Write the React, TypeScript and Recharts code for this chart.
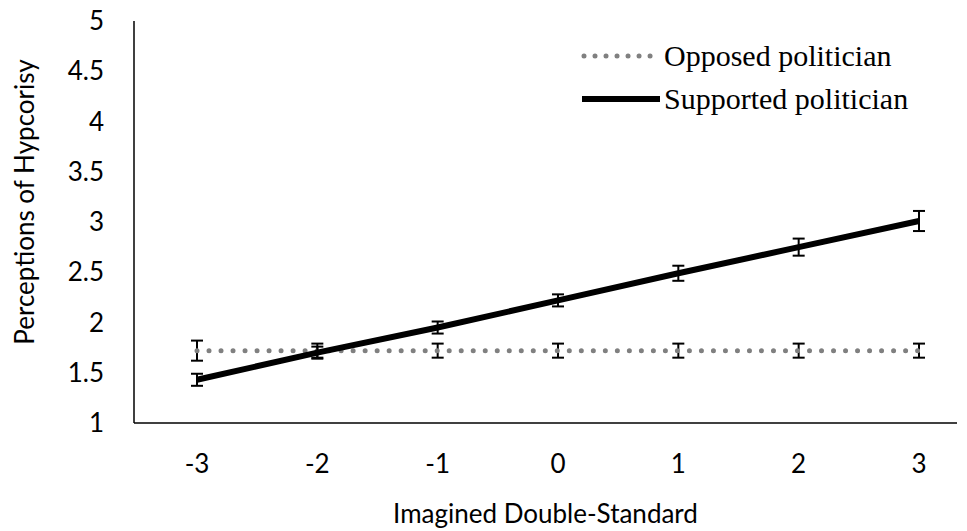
import React from "react";
import { LineChart, Line, XAxis, YAxis, ErrorBar } from "recharts";

const categories = ["-3", "-2", "-1", "0", "1", "2", "3"];
const opposed = [1.72, 1.72, 1.72, 1.72, 1.72, 1.72, 1.72];
const opposedErr = [0.1, 0.07, 0.07, 0.07, 0.07, 0.07, 0.07];
const supported = [1.43, 1.7, 1.95, 2.22, 2.49, 2.75, 3.01];
const supportedErr = [0.06, 0.06, 0.06, 0.06, 0.075, 0.085, 0.1];
const yTicks = [1, 1.5, 2, 2.5, 3, 3.5, 4, 4.5, 5];
const seriesNames = ["Opposed politician", "Supported politician"];

const data = categories.map((c, i) => ({
  x: c,
  opposed: opposed[i],
  opposedErr: opposedErr[i],
  supported: supported[i],
  supportedErr: supportedErr[i],
}));

const SANS = "Lato, 'Open Sans', sans-serif";
const SERIF = "'Liberation Serif', 'DejaVu Serif', serif";

const LegendBox = () => (
  <div style={{ position: "absolute", left: 580, top: 34, fontFamily: SERIF, fontSize: 30, color: "#000", lineHeight: "43px" }}>
    <div style={{ display: "flex", alignItems: "center" }}>
      <svg width={80} height={10} style={{ marginRight: 4 }}>
        <line x1={4} y1={5} x2={76} y2={5} stroke="#808080" strokeWidth={5} strokeDasharray="0.01 11" strokeLinecap="round" />
      </svg>
      <span>{seriesNames[0]}</span>
    </div>
    <div style={{ display: "flex", alignItems: "center" }}>
      <svg width={80} height={10} style={{ marginRight: 4 }}>
        <line x1={2} y1={5} x2={80} y2={5} stroke="#000" strokeWidth={6} />
      </svg>
      <span>{seriesNames[1]}</span>
    </div>
  </div>
);

const YLabel = (props: any) => {
  const vb = props.viewBox || { x: 0, y: 0, width: 0, height: 0 };
  const cx = 24;
  const cy = vb.y + vb.height / 2 - 20;
  return (
    <text x={cx} y={cy} transform={`rotate(-90, ${cx}, ${cy})`} textAnchor="middle" dominantBaseline="central" fontFamily={SANS} fontSize={26} fill="#000">
      Perceptions of Hypcorisy
    </text>
  );
};

const XLabel = (props: any) => {
  const vb = props.viewBox || { x: 0, y: 0, width: 0, height: 0 };
  return (
    <text x={vb.x + vb.width / 2} y={513} textAnchor="middle" dominantBaseline="central" fontFamily={SANS} fontSize={26} fill="#000">
      Imagined Double-Standard
    </text>
  );
};

export default function App() {
  return (
    <div style={{ position: "absolute", left: 0, top: 0, width: 967, height: 531, background: "#fff" }}>
      <LineChart width={967} height={531} data={data} margin={{ top: 21, right: 10, bottom: 0, left: 0 }}>
        <XAxis
          dataKey="x"
          interval={0}
          padding={{ left: 63, right: 38 }}
          tickLine={false}
          tickSize={0}
          tickMargin={32}
          axisLine={{ stroke: "#000", strokeWidth: 1.5 }}
          tick={{ fill: "#000", fontSize: 26, fontFamily: SANS }}
          height={108}
          label={<XLabel />}
        />
        <YAxis
          type="number"
          domain={[1, 5]}
          ticks={yTicks}
          interval={0}
          width={134}
          tickLine={false}
          tickSize={0}
          tickMargin={30}
          axisLine={{ stroke: "#000", strokeWidth: 1.5 }}
          tick={{ fill: "#000", fontSize: 26, fontFamily: SANS }}
          label={<YLabel />}
        />
        <Line
          type="linear"
          dataKey="opposed"
          stroke="#808080"
          strokeWidth={5}
          strokeDasharray="0.01 12"
          strokeLinecap="round"
          dot={false}
          isAnimationActive={false}
        >
          <ErrorBar dataKey="opposedErr" width={6} stroke="#000" strokeWidth={2} direction="y" />
        </Line>
        <Line
          type="linear"
          dataKey="supported"
          stroke="#000"
          strokeWidth={6}
          dot={false}
          isAnimationActive={false}
        >
          <ErrorBar dataKey="supportedErr" width={6} stroke="#000" strokeWidth={2} direction="y" />
        </Line>
      </LineChart>
      <LegendBox />
    </div>
  );
}
